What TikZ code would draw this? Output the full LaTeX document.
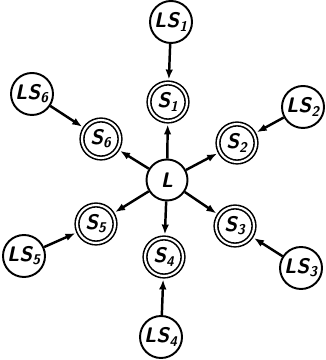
\documentclass[tikz,border=0pt]{standalone}
\usepackage{tikz}
\usetikzlibrary{arrows.meta}
\tikzset{
  ring/.style={circle, draw, line width=1.1pt, minimum size=8.4mm, inner sep=0pt,
    font=\sffamily\bfseries\slshape\large},
  lsnode/.style={ring},
  snode/.style={ring, double, line width=0.9pt, double distance=1.2pt, minimum size=7.6mm},
  lnode/.style={ring, minimum size=8.2mm},
  arr/.style={-{Latex[length=2mm,width=1.5mm]}, line width=1.4pt, shorten >=1.5pt},
}

\begin{document}
\begin{tikzpicture}
  \useasboundingbox (0,0) rectangle (6.5,7.2);
  \node[lnode] (l) at (3.34,3.60) {L};
  \node[snode] (s1) at (3.36,5.16) {S\textsubscript{1}};
  \node[snode] (s2) at (4.74,4.34) {S\textsubscript{2}};
  \node[snode] (s3) at (4.70,2.68) {S\textsubscript{3}};
  \node[snode] (s4) at (3.28,2.06) {S\textsubscript{4}};
  \node[snode] (s5) at (1.92,2.72) {S\textsubscript{5}};
  \node[snode] (s6) at (2.02,4.42) {S\textsubscript{6}};
  \node[lsnode] (ls1) at (3.42,6.76) {LS\textsubscript{1}};
  \node[lsnode] (ls2) at (6.06,5.06) {LS\textsubscript{2}};
  \node[lsnode] (ls3) at (6.02,1.84) {LS\textsubscript{3}};
  \node[lsnode] (ls4) at (3.22,0.46) {LS\textsubscript{4}};
  \node[lsnode] (ls5) at (0.48,2.08) {LS\textsubscript{5}};
  \node[lsnode] (ls6) at (0.64,5.32) {LS\textsubscript{6}};
  % centre to stations, then outer links
  \foreach \i in {1,...,6}{
    \draw[arr] (l) -- (s\i);
    \draw[arr] (ls\i) -- (s\i);
  }
\end{tikzpicture}
\end{document}
